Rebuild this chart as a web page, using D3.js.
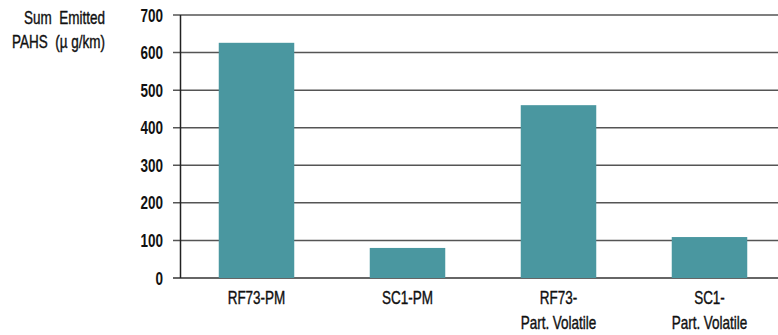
<!DOCTYPE html>
<html>
<head>
<meta charset="utf-8">
<script src="https://cdn.jsdelivr.net/npm/d3@7"></script>
<style>
  body { margin: 0; background: #fff; }
  svg { display: block; }
  text { white-space: pre; }
</style>
</head>
<body>
<div id="chart"></div>
<script>
const categories = [["RF73-PM"], ["SC1-PM"], ["RF73-", "Part. Volatile"], ["SC1-", "Part. Volatile"]];
const values = [626, 80, 460, 109];
const yTicks = [0, 100, 200, 300, 400, 500, 600, 700];
const yTitle = ["Sum  Emitted", "PAHS  (\u00b5 g/km)"];

const width = 778, height = 335;
const keys = categories.map(c => c.join(" "));
const font = "'Liberation Sans', Arial, sans-serif";
const squeeze = 0.75; // the original face is a condensed one

const svg = d3.select("#chart")
  .append("svg")
    .attr("width", width)
    .attr("height", height);

let x = d3.scaleBand()
  .domain(keys)
  .range([181, 785])
  .paddingInner(0.5)
  .paddingOuter(0.25);

let y = d3.scaleLinear()
  .domain([0, 700])
  .range([278, 15]);

// gridlines
svg.append("g")
  .selectAll("line")
  .data(yTicks)
  .enter()
  .append("line")
    .attr("x1", 173)
    .attr("x2", width)
    .attr("y1", d => y(d))
    .attr("y2", d => y(d))
    .style("stroke", d => d === 0 ? "#333" : "#555")
    .style("stroke-width", 1.5);

// bars
svg.append("g")
  .selectAll("rect")
  .data(values)
  .enter()
  .append("rect")
    .attr("x", (d, i) => x(keys[i]))
    .attr("width", x.bandwidth())
    .attr("y", d => y(d))
    .attr("height", d => y(0) - y(d))
    .attr("fill", "#4a97a0");

// y axis line
svg.append("line")
  .attr("x1", 180.5).attr("x2", 180.5)
  .attr("y1", y(700)).attr("y2", y(0))
  .style("stroke", "#222")
  .style("stroke-width", 1.5);

// tick labels
svg.append("g")
  .selectAll("text")
  .data(yTicks)
  .enter()
  .append("text")
    .attr("transform", d => "translate(163," + (y(d) + 6.5) + ") scale(" + squeeze + ",1)")
    .attr("text-anchor", "end")
    .style("font-family", font)
    .style("font-weight", "bold")
    .style("font-size", "18px")
    .style("fill", "#111")
    .text(d => d);

// category labels
let cat = svg.append("g")
  .selectAll("text")
  .data(categories)
  .enter()
  .append("text")
    .attr("transform", (d, i) => "translate(" + (x(keys[i]) + x.bandwidth() / 2) + ",304) scale(" + squeeze + ",1)")
    .attr("text-anchor", "middle")
    .style("font-family", font)
    .style("font-size", "18px")
    .style("fill", "#111")
    .style("stroke", "#111")
    .style("stroke-width", 0.4);

cat.selectAll("tspan")
  .data(d => d)
  .enter()
  .append("tspan")
    .attr("x", 0)
    .attr("dy", (d, i) => i === 0 ? 0 : 25)
    .text(d => d);

// axis title
svg.append("g")
  .selectAll("text")
  .data(yTitle)
  .enter()
  .append("text")
    .attr("transform", (d, i) => "translate(105," + (24 + i * 24) + ") scale(" + squeeze + ",1)")
    .attr("text-anchor", "end")
    .style("font-family", font)
    .style("font-size", "18px")
    .style("fill", "#111")
    .style("stroke", "#111")
    .style("stroke-width", 0.4)
    .text(d => d);
</script>
</body>
</html>
